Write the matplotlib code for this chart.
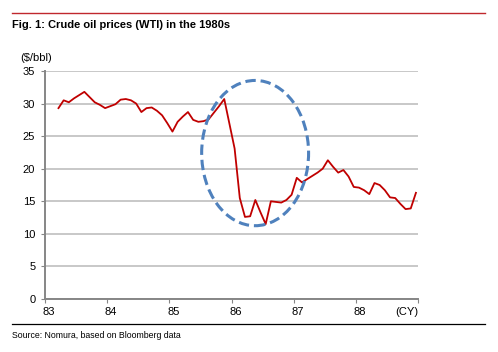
import matplotlib
matplotlib.use("Agg")
import matplotlib.pyplot as plt
import matplotlib.transforms as mtransforms
from matplotlib.patches import Ellipse

plt.rcParams['font.family'] = ['Liberation Sans', 'DejaVu Sans']

# monthly WTI, Mar 1983 (month index 2 from Jan 83) .. Dec 1988 (index 71)
start_month = 2
wti = [29.3, 30.5, 30.2, 30.8, 31.3, 31.8, 31.0, 30.2, 29.8, 29.3,
       29.6, 29.9, 30.6, 30.7, 30.5, 30.0, 28.7, 29.3, 29.4, 28.9,
       28.2, 27.0, 25.7, 27.2, 28.0, 28.7, 27.5, 27.2, 27.3, 27.6,
       28.6, 29.6, 30.7, 26.9, 23.1, 15.5, 12.6, 12.7, 15.2, 13.3,
       11.5, 15.0, 14.9, 14.8, 15.2, 16.0, 18.6, 17.9, 18.4, 18.9,
       19.4, 20.0, 21.3, 20.3, 19.4, 19.8, 18.8, 17.2, 17.1, 16.7,
       16.1, 17.8, 17.5, 16.7, 15.6, 15.5, 14.6, 13.8, 13.9, 16.3]
years = [83, 84, 85, 86, 87, 88]
yticks = [0, 5, 10, 15, 20, 25, 30, 35]

xs = [83 + (start_month + i + 0.6) / 12 for i in range(len(wti))]

fig = plt.figure(figsize=(4.98, 3.52), dpi=100)
ax = fig.add_axes([45 / 498, 1 - 299 / 352, 373 / 498, 228 / 352])

ax.plot(xs, wti, color="#C00000", lw=1.3, zorder=3)

# dashed highlight around the 1986 collapse
ax.add_patch(Ellipse((86.38, 22.4), 1.72, 22.3, fill=False, ec="#4F81BD",
                     lw=2.2, ls=(0, (3.4, 1.6)), zorder=4))

ax.set_xlim(83, 89)
ax.set_ylim(0, 35)
ax.set_yticks(yticks)
ax.set_xticks(years + [89])
ax.set_xticklabels([str(y) for y in years] + [""])
ax.grid(axis="y", color="#BFBFBF", lw=1.2)
ax.set_axisbelow(True)
for s in ["top", "right"]:
    ax.spines[s].set_visible(False)
for s in ["left", "bottom"]:
    ax.spines[s].set_color("#868686")
    ax.spines[s].set_linewidth(1.4)
ax.tick_params(axis="both", colors="#868686", length=3, width=0.8,
               labelsize=8, labelcolor="black")
ax.tick_params(axis="x", pad=3)
ax.tick_params(axis="y", pad=4)
shift = mtransforms.ScaledTranslation(4 / 100, 0, fig.dpi_scale_trans)
for lbl in ax.get_xticklabels():
    lbl.set_transform(lbl.get_transform() + shift)

ax.annotate("(CY)", xy=(1.0, 0.0), xycoords="axes fraction",
            xytext=(0, -6), textcoords="offset points",
            ha="right", va="top", fontsize=8)

fig.text(20 / 498, 1 - 58 / 352, "($/bbl)", ha="left", va="center", fontsize=8)
fig.text(12 / 498, 1 - 25 / 352, "Fig. 1: Crude oil prices (WTI) in the 1980s",
         ha="left", va="center", fontsize=8, fontweight="bold")
fig.text(12 / 498, 1 - 335 / 352, "Source: Nomura, based on Bloomberg data",
         ha="left", va="center", fontsize=6.3)

fig.add_artist(plt.Line2D([12 / 498, 485 / 498], [1 - 13 / 352] * 2,
                          color="#C0282D", lw=1.0, transform=fig.transFigure))
fig.add_artist(plt.Line2D([12 / 498, 485 / 498], [1 - 324 / 352] * 2,
                          color="black", lw=0.9, transform=fig.transFigure))

fig.savefig("out.png", dpi=100)
